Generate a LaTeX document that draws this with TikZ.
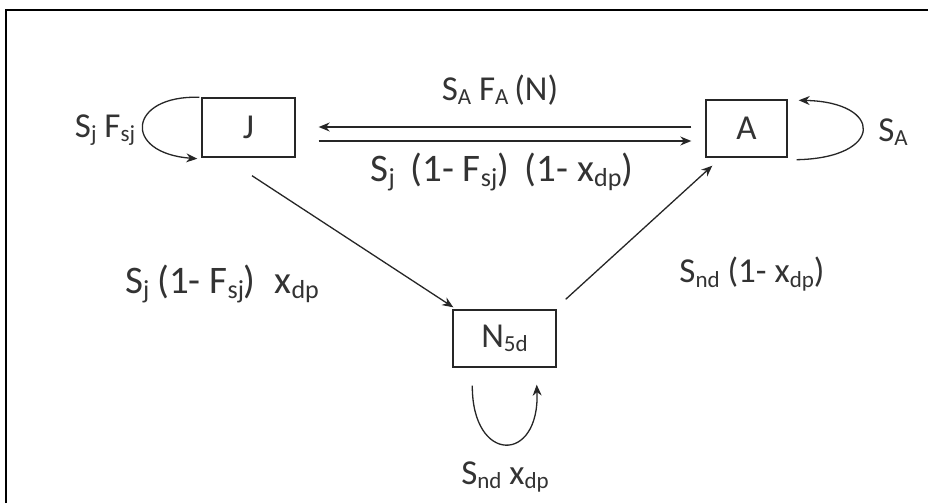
\documentclass[tikz,border=0pt]{standalone}
\usepackage{fontspec}
\setmainfont{Carlito}
\usetikzlibrary{arrows.meta}
\newcommand{\sbs}[1]{\raisebox{-0.13em}{\fontsize{23}{23}\selectfont #1}}
\newcommand{\sbsL}[1]{\raisebox{-0.13em}{\fontsize{26}{26}\selectfont #1}}
\begin{document}
\begin{tikzpicture}[x=1pt,y=-1pt,
  ink/.style={draw=black!85},
  box/.style={ink, line width=1.4pt, minimum width=#1, inner sep=0pt, font=\fontsize{35}{40}\selectfont, text=black!80},
  arr/.style={ink, line width=1.3pt, -{Stealth[length=11pt,width=9pt]}},
  lbl/.style={font=\fontsize{35}{40}\selectfont, text=black!80, inner sep=0pt},
  lblL/.style={font=\fontsize{39}{44}\selectfont, text=black!80, inner sep=0pt}]
\useasboundingbox (0,0) rectangle (928,503);
\fill[white] (0,0) rectangle (928,503);
\draw[line width=2pt] (6,503) -- (6,10) -- (928,10);
% boxes
\node[box=93pt, minimum height=59pt] (J) at (248.5,127.5) {J};
\node[box=81pt, minimum height=57pt] (A) at (746.5,128.5) {A};
\node[box=103pt, minimum height=57pt] (N) at (504.5,338.5) {N\sbs{5d}};
% labels
\node[lbl] (lJ) at (105,130) {S\sbs{j} F\sbs{sj}};
\node[lbl] (lAJ) at (500,90) {S\sbs{A} F\sbs{A}\,(N)};
\node[lblL] (lJA) at (502,172) {S\sbsL{j}\hspace{7pt} (1- F\sbsL{sj})\hspace{7pt} (1- x\sbsL{dp})};
\node[lbl] (lA) at (893,132) {S\sbs{A}};
\node[lblL] (lJN) at (222,284) {S\sbsL{j}\hspace{8pt}(1- F\sbsL{sj})\hspace{10pt} x\sbsL{dp}};
\node[lbl] (lNA) at (752,274) {S\sbs{nd} (1- x\sbs{dp})};
\node[lbl] (lN) at (505,477) {S\sbs{nd} x\sbs{dp}};
% connectors
\draw[arr, shorten <=14pt, shorten >=23pt] ([yshift=1.5pt]A.west) -- ([yshift=0.5pt]J.east);
\draw[arr, shorten <=23pt, shorten >=14pt] ([yshift=-13.5pt]J.east) -- ([yshift=-12.5pt]A.west);
\draw[arr] ([shift={(3.5pt,-18pt)}]J.south) -- ([shift={(1pt,2pt)}]N.north west);
\draw[arr] ([shift={(9pt,10pt)}]N.north east) -- ([shift={(7pt,-8pt)}]A.south west);
% self loops
\draw[arr] ([xshift=-2pt]J.north west) .. controls (128,95) and (122,153) .. ([shift={(-4pt,-1pt)}]J.south west);
\draw[arr] ([shift={(9pt,-2pt)}]A.south east) .. controls (884,158) and (884,102) .. ([shift={(11pt,-1pt)}]A.north east);
\draw[arr] ([shift={(20pt,-18pt)}]N.south west) .. controls (472,464) and (540,464) .. ([shift={(-20pt,-17pt)}]N.south east);
\end{tikzpicture}
\end{document}
